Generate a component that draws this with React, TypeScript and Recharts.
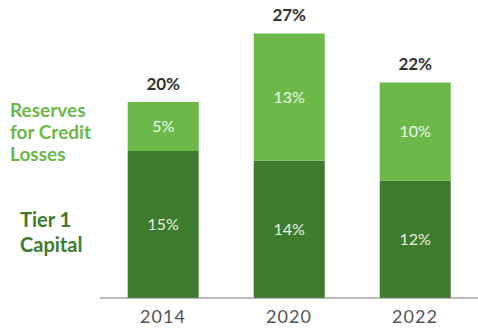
import React from 'react';
import { BarChart, Bar, XAxis, YAxis, LabelList } from 'recharts';

const years = ['2014', '2020', '2022'];
const tier1Capital = [15, 14, 12];
const creditReserves = [5, 13, 10];
const totals = [20, 27, 22];

const LIGHT = '#6cb94a';
const DARK = '#3f7b2d';
const FONT = 'Lato, "Noto Sans", sans-serif';

const data = years.map((year, i) => ({
    year,
    tier1: tier1Capital[i],
    reserves: creditReserves[i],
    total: totals[i],
}));

const pct = (v: any) => `${v}%`;

const TotalLabel = (props: any) => {
    const { x, y, width, value } = props;
    return (
        <text x={x + width / 2} y={y - 12} textAnchor="middle" fill="#333" fontSize={17} fontWeight={700} fontFamily={FONT}>
            {value}%
        </text>
    );
};

const App: React.FC = () => {
    return (
        <div style={{ position: 'absolute', left: 0, top: 0, width: 478, height: 333, fontFamily: FONT }}>
            <BarChart width={478} height={333} data={data} margin={{ top: 4, right: 0, left: 100, bottom: 0 }} barCategoryGap="22%">
                <XAxis
                    dataKey="year"
                    axisLine={{ stroke: '#777', strokeWidth: 1 }}
                    tickLine={false}
                    height={35}
                    tick={{ fill: '#555', fontSize: 18, fontFamily: FONT, letterSpacing: 1 }}
                    tickMargin={6}
                />
                <YAxis domain={[0, 30]} hide />
                <Bar dataKey="tier1" stackId="a" fill={DARK} isAnimationActive={false}>
                    <LabelList dataKey="tier1" position="center" formatter={pct} fill="#e8f2e0" fontSize={16} fontFamily={FONT} />
                </Bar>
                <Bar dataKey="reserves" stackId="a" fill={LIGHT} isAnimationActive={false}>
                    <LabelList dataKey="reserves" position="center" formatter={pct} fill="#f0f8ea" fontSize={16} fontFamily={FONT} />
                    <LabelList dataKey="total" content={<TotalLabel />} />
                </Bar>
            </BarChart>
            <div style={{ position: 'absolute', left: 10, top: 99, color: LIGHT, fontWeight: 700, fontSize: 19, lineHeight: '22px' }}>
                Reserves<br />for Credit<br />Losses
            </div>
            <div style={{ position: 'absolute', left: 20, top: 207, color: DARK, fontWeight: 700, fontSize: 20, lineHeight: '25px' }}>
                Tier 1<br />Capital
            </div>
        </div>
    );
};

export default App;
